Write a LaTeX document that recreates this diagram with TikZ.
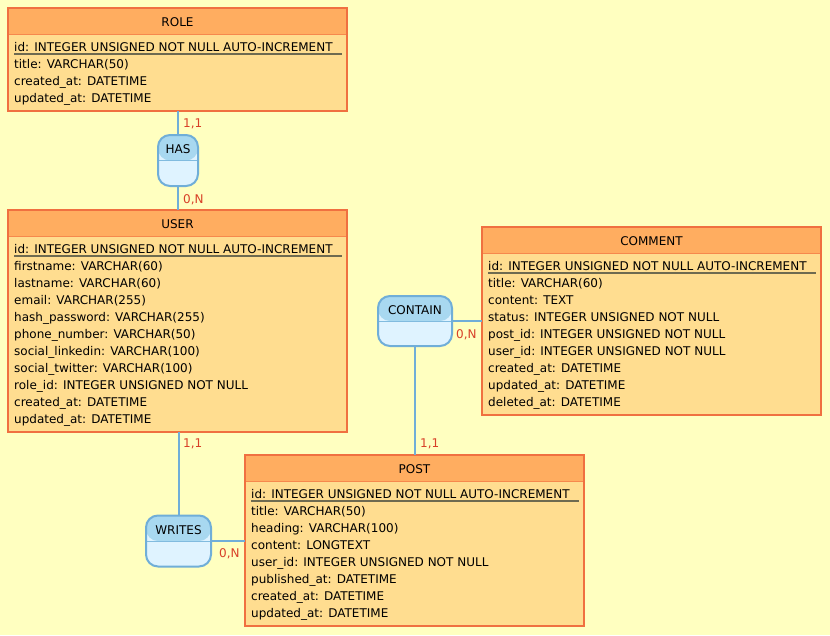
\documentclass[tikz,border=0pt]{standalone}
\usepackage{fontspec}
\setmainfont{DejaVu Sans}
\definecolor{bg}{HTML}{FFFFC0}
\definecolor{hdr}{HTML}{FFAD60}
\definecolor{tbody}{HTML}{FFDD90}
\definecolor{tborder}{HTML}{F07040}
\definecolor{rline}{HTML}{70AED8}
\definecolor{rtop}{HTML}{A8D8F0}
\definecolor{rbot}{HTML}{DFF3FF}
\definecolor{card}{HTML}{D84028}
\definecolor{uline}{HTML}{6E6A50}
\tikzset{
  tbl/.style={draw=tborder, line width=2pt, fill=tbody, minimum width=339pt,
    inner sep=0pt, outer sep=0pt, anchor=north west,
    path picture={
      \fill[hdr] (path picture bounding box.north west) rectangle ([yshift=-26pt]path picture bounding box.north east);
      \draw[tborder!60!hdr, line width=1pt] ([yshift=-26pt]path picture bounding box.north west) -- ([yshift=-26pt]path picture bounding box.north east);
    }},
  ttl/.style={anchor=base, inner sep=0pt},
  row/.style={anchor=base west, inner sep=0pt},
  idline/.style={draw=uline, line width=1.5pt},
  rel/.style={draw=rline, line width=2pt, fill=rbot, rounded corners=12pt,
    inner sep=0pt, outer sep=0pt,
    path picture={
      \fill[rtop] (path picture bounding box.north west) rectangle (path picture bounding box.east);
      \draw[rline!70!rtop, line width=1pt] (path picture bounding box.west) -- (path picture bounding box.east);
    }},
  reltxt/.style={anchor=base, inner sep=0pt},
  conn/.style={draw=rline, line width=2pt},
  cardl/.style={anchor=base west, inner sep=0pt, text=card},
}
\newcommand\erdrows[2]{%
  \foreach \t [count=\i] in {#2} {%
    \node[row] (#1-\i) at ([xshift=6pt, yshift={-(39+(\i-1)*17+4.8)*1pt}]#1.north west) {\t};
  }%
  \draw[idline] ([xshift=6pt, yshift=-45.8pt]#1.north west) -- ([xshift=334pt, yshift=-45.8pt]#1.north west);
}
\begin{document}
\begin{tikzpicture}[x=1pt, y=-1pt, font=\fontsize{12pt}{14pt}\selectfont]
\useasboundingbox[fill=bg] (0,0) rectangle (830,635);

% ROLE
\node[tbl, minimum height=103pt] (role) at (8,8) {};
\node[ttl] (roleT) at ([yshift=-18.8pt]role.north) {ROLE};
\erdrows{role}{id: INTEGER UNSIGNED NOT NULL AUTO-INCREMENT, title: VARCHAR(50), created\_at: DATETIME, updated\_at: DATETIME}

% USER
\node[tbl, minimum height=222pt] (user) at (8,210) {};
\node[ttl] (userT) at ([yshift=-18.8pt]user.north) {USER};
\erdrows{user}{id: INTEGER UNSIGNED NOT NULL AUTO-INCREMENT, firstname: VARCHAR(60), lastname: VARCHAR(60), email: VARCHAR(255), hash\_password: VARCHAR(255), phone\_number: VARCHAR(50), social\_linkedin: VARCHAR(100), social\_twitter: VARCHAR(100), role\_id: INTEGER UNSIGNED NOT NULL, created\_at: DATETIME, updated\_at: DATETIME}

% COMMENT
\node[tbl, minimum height=188pt] (comment) at (482,227) {};
\node[ttl] (commentT) at ([yshift=-18.8pt]comment.north) {COMMENT};
\erdrows{comment}{id: INTEGER UNSIGNED NOT NULL AUTO-INCREMENT, title: VARCHAR(60), content: TEXT, status: INTEGER UNSIGNED NOT NULL, post\_id: INTEGER UNSIGNED NOT NULL, user\_id: INTEGER UNSIGNED NOT NULL, created\_at: DATETIME, updated\_at: DATETIME, deleted\_at: DATETIME}

% POST
\node[tbl, minimum height=171pt] (post) at (245,455) {};
\node[ttl] (postT) at ([yshift=-18.8pt]post.north) {POST};
\erdrows{post}{id: INTEGER UNSIGNED NOT NULL AUTO-INCREMENT, title: VARCHAR(50), heading: VARCHAR(100), content: LONGTEXT, user\_id: INTEGER UNSIGNED NOT NULL, published\_at: DATETIME, created\_at: DATETIME, updated\_at: DATETIME}

% relations
\node[rel, minimum width=40pt, minimum height=51pt] (has) at (178,160.5) {};
\node[reltxt] (hasT) at ([yshift=-18.8pt]has.north) {HAS};
\node[rel, minimum width=74pt, minimum height=50pt] (contain) at (415,321) {};
\node[reltxt] (containT) at ([yshift=-18.8pt]contain.north) {CONTAIN};
\node[rel, minimum width=65pt, minimum height=51pt] (writes) at (178.5,541) {};
\node[reltxt] (writesT) at ([yshift=-18.8pt]writes.north) {WRITES};

% connectors
\draw[conn] (has.north |- role.south) -- (has.north);
\draw[conn] (has.south) -- (has.south |- user.north);
\draw[conn] (contain.east) -- (contain.east -| comment.west);
\draw[conn] (contain.south) -- (contain.south |- post.north);
\draw[conn] (writes.north |- user.south) -- (writes.north);
\draw[conn] (writes.east) -- (writes.east -| post.west);

% cardinalities
\node[cardl] (c1) at (183,127.8) {1,1};
\node[cardl] (c2) at (183,203.8) {0,N};
\node[cardl] (c3) at (456,338.8) {0,N};
\node[cardl] (c4) at (420,447.8) {1,1};
\node[cardl] (c5) at (183,447.8) {1,1};
\node[cardl] (c6) at (219,557.8) {0,N};
\end{tikzpicture}
\end{document}
